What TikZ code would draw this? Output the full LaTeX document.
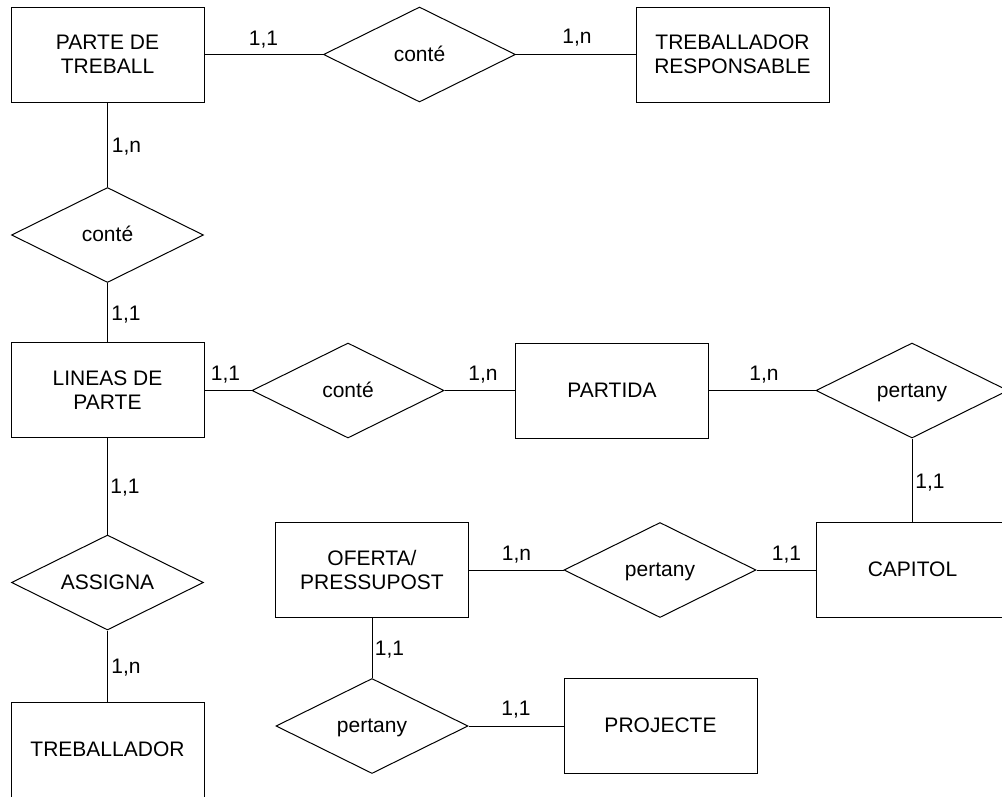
\documentclass[tikz,border=0pt]{standalone}
\usepackage{fontspec}
\setmainfont{Liberation Sans}
\usetikzlibrary{shapes.geometric}
\begin{document}
\begin{tikzpicture}[x=1pt,y=-1pt,
  every node/.style={font=\fontsize{21}{24}\selectfont},
  ent/.style={draw, rectangle, minimum width=193pt, minimum height=95pt, inner sep=0pt, align=center, line width=1pt},
  rel/.style={draw, diamond, aspect=2, minimum width=192pt, minimum height=95pt, inner sep=0pt, line width=1pt, text height=15pt, text depth=2pt},
  oneline/.style={text height=15pt, text depth=2pt},
  card/.style={anchor=base, inner sep=0pt},
  conn/.style={line width=1pt}]
\useasboundingbox (0,0) rectangle (1002,796);
\clip (0,0) rectangle (1002,796);
% entities
\node[ent] (pt) at (107.5,54.5) {PARTE DE\\TREBALL};
\node[ent] (tr) at (732.5,54.5) {TREBALLADOR\\RESPONSABLE};
\node[ent] (lp) at (107.5,390) {LINEAS DE\\PARTE};
\node[ent, oneline] (pa) at (612,390.5) {PARTIDA};
\node[ent, oneline] (ca) at (912.5,570) {CAPITOL};
\node[ent] (op) at (372,570) {OFERTA/\\PRESSUPOST};
\node[ent, oneline] (pr) at (660.5,726) {PROJECTE};
\node[ent, oneline] (tb) at (107.5,749.5) {TREBALLADOR};
% relationships
\node[rel] (c1) at (419.5,54.5) {conté};
\node[rel] (c2) at (107.5,235) {conté};
\node[rel] (c3) at (348,390.5) {conté};
\node[rel] (c4) at (912,390.5) {pertany};
\node[rel] (c5) at (660,570) {pertany};
\node[rel] (c6) at (372,726) {pertany};
\node[rel] (as) at (107.5,582.5) {ASSIGNA};
% connectors
\draw[conn] (pt) -- (c1);
\draw[conn] (c1) -- (tr);
\draw[conn] (pt) -- (c2);
\draw[conn] (c2) -- (lp);
\draw[conn] (lp.east) -- (lp.east -| c3.west);
\draw[conn] (c3) -- (pa);
\draw[conn] (pa) -- (c4);
\draw[conn] (c4.south) -- (c4.south |- ca.north);
\draw[conn] (op) -- (c5);
\draw[conn] (c5) -- (ca);
\draw[conn] (op.south) -- (op.south |- c6.north);
\draw[conn] (c6) -- (pr);
\draw[conn] (lp) -- (as);
\draw[conn] (as) -- (tb);
% cardinalities
\node[card] (l1) at (263.5,45) {1,1};
\node[card] (l2) at (577,43.5) {1,n};
\node[card] (l3) at (126.5,152) {1,n};
\node[card] (l4) at (126,320) {1,1};
\node[card] (l5) at (225.5,380) {1,1};
\node[card] (l6) at (483,380) {1,n};
\node[card] (l7) at (764,380) {1,n};
\node[card] (l8) at (930,488) {1,1};
\node[card] (l9) at (516.5,560) {1,n};
\node[card] (l10) at (786.5,560) {1,1};
\node[card] (l11) at (389.5,655) {1,1};
\node[card] (l12) at (516,715) {1,1};
\node[card] (l13) at (125,493) {1,1};
\node[card] (l14) at (126,673) {1,n};
\end{tikzpicture}
\end{document}
